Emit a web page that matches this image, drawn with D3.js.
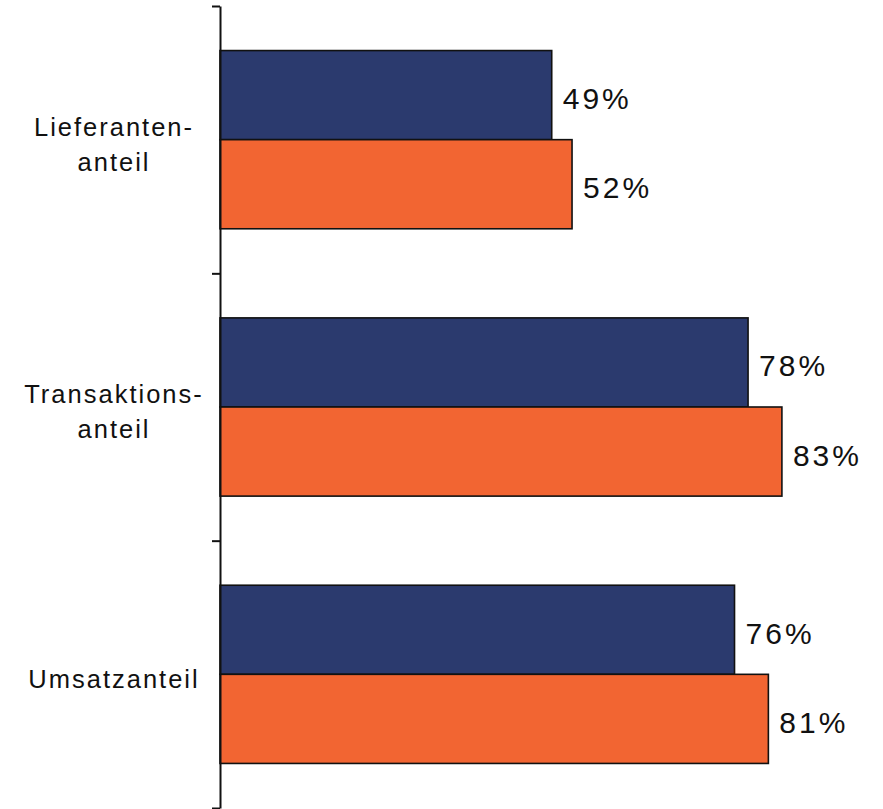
<!DOCTYPE html>
<html>
<head>
<meta charset="utf-8">
<script src="https://cdn.jsdelivr.net/npm/d3@7"></script>
<style>
  html, body { margin: 0; padding: 0; background: #ffffff; }
  svg { display: block; }
</style>
</head>
<body>
<svg id="chart" width="883" height="809"></svg>
<script>
// ---- data ----
const categories = ["Lieferantenanteil", "Transaktionsanteil", "Umsatzanteil"];
const categoryLabels = [["Lieferanten-", "anteil"], ["Transaktions-", "anteil"], ["Umsatzanteil"]];
const seriesNames = ["Serie A", "Serie B"];
const seriesA = [49, 78, 76];
const seriesB = [52, 83, 81];
const seriesColors = ["#2B3A6E", "#F26532"];

const svg = d3.select("#chart");
const axisX = 220, plotTop = 6, plotBottom = 808;

const x = d3.scaleLinear().domain([0, 100]).range([axisX, axisX + 677]);
const y0 = d3.scaleBand().domain(categories).range([plotTop, plotBottom]).paddingInner(0).paddingOuter(0);
const y1 = d3.scaleBand().domain(seriesNames).range([0, y0.bandwidth()]).paddingInner(0).paddingOuter(0.5);

const rows = categories.map((c, i) => ({
  cat: c, label: categoryLabels[i],
  vals: [{s: seriesNames[0], v: seriesA[i], c: seriesColors[0]}, {s: seriesNames[1], v: seriesB[i], c: seriesColors[1]}]
}));

const g = svg.selectAll("g.cat").data(rows).join("g")
  .attr("class", "cat")
  .attr("transform", d => `translate(0,${y0(d.cat)})`);

g.selectAll("rect").data(d => d.vals).join("rect")
  .attr("x", x(0))
  .attr("y", d => y1(d.s))
  .attr("width", d => x(d.v) - x(0))
  .attr("height", y1.bandwidth())
  .attr("fill", d => d.c)
  .attr("stroke", "#111")
  .attr("stroke-width", 1.6);

g.selectAll("text.val").data(d => d.vals).join("text")
  .attr("class", "val")
  .attr("x", d => x(d.v) + 11)
  .attr("y", d => y1(d.s) + y1.bandwidth() / 2 + 14)
  .attr("font-family", "'Liberation Sans', Arial, sans-serif")
  .attr("font-size", 30)
  .attr("letter-spacing", 3)
  .attr("fill", "#111")
  .text(d => d.v + "%");

// category labels
g.each(function(d) {
  const n = d.label.length;
  const lh = 35;
  const cy = y0.bandwidth() / 2;
  const t = d3.select(this).append("text")
    .attr("font-family", "'Liberation Sans', Arial, sans-serif")
    .attr("font-size", 25.5)
    .attr("letter-spacing", 2)
    .attr("fill", "#111")
    .attr("text-anchor", "middle");
  d.label.forEach((line, i) => {
    t.append("tspan")
      .attr("x", 114)
      .attr("y", cy + 14 - (n - 1) * lh / 2 + i * lh)
      .text(line);
  });
});

// axis with ticks at band boundaries
const yLin = d3.scaleLinear().domain([0, categories.length]).range([plotTop, plotBottom]);
const axis = d3.axisLeft(yLin).tickValues(d3.range(categories.length + 1)).tickFormat("").tickSize(8).tickSizeOuter(0);
const ag = svg.append("g").attr("transform", `translate(${axisX},0)`).call(axis);
ag.selectAll("path, line").attr("stroke", "#111").attr("stroke-width", 2);
</script>
</body>
</html>
